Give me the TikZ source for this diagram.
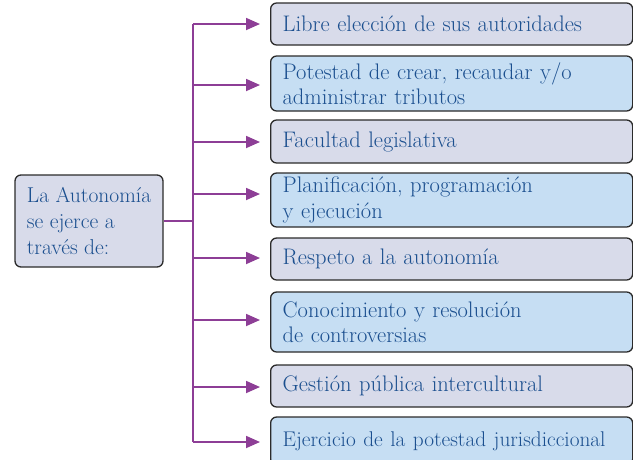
\documentclass[tikz,border=0pt]{standalone}
\usepackage{fontspec}
\usetikzlibrary{arrows.meta}
\definecolor{boxgray}{HTML}{D8DBEA}
\definecolor{boxblue}{HTML}{C6DEF3}
\definecolor{txtblue}{HTML}{1B4F8F}
\definecolor{arrpurple}{HTML}{8D3E96}
\definecolor{bord}{HTML}{2B2B2B}
\tikzset{
  x=1pt,y=-1pt,
  itembox/.style={draw=bord, line width=1.3pt, rounded corners=6pt, anchor=west,
    inner xsep=12pt, inner ysep=2pt, text width=338pt, align=left, text=txtblue,
    font=\fontsize{22.5}{25.5}\selectfont},
  gbox/.style={itembox, fill=boxgray},
  bbox/.style={itembox, fill=boxblue},
  arr/.style={draw=arrpurple, line width=1.8pt, -{Triangle[length=14pt,width=12pt]}},
  ln/.style={draw=arrpurple, line width=1.8pt},
}
\begin{document}
\begin{tikzpicture}
\useasboundingbox (0,0) rectangle (633,459);
\clip (0,0) rectangle (633,459);
\node[gbox, minimum height=42pt] (b1) at (270,24) {Libre elección de sus autoridades};
\node[bbox, minimum height=55pt] (b2) at (270,83.5) {\makebox[324pt][s]{Potestad de crear, recaudar y/o}\\administrar tributos};
\node[gbox, minimum height=43pt] (b3) at (270,141.5) {Facultad legislativa};
\node[bbox, minimum height=54pt] (b4) at (270,200) {Planificación, programación\\y ejecución};
\node[gbox, minimum height=42pt] (b5) at (270,259) {Respeto a la autonomía};
\node[bbox, minimum height=60pt] (b6) at (270,322) {Conocimiento y resolución\\de controversias};
\node[gbox, minimum height=42pt] (b7) at (270,386) {Gestión pública intercultural};
\node[bbox, minimum height=48pt] (b8) at (270,441) {\fontsize{21.3}{25}\selectfont\mbox{Ejercicio de la potestad jurisdiccional}};
\node[draw=bord, line width=1.3pt, rounded corners=6pt, fill=boxgray, text=txtblue,
  align=left, inner xsep=4pt, minimum width=148pt, minimum height=92pt,
  font=\fontsize{21.5}{26}\selectfont] (L) at (89,221) {La Autonomía\\se ejerce a\\través de:};
\coordinate (t1) at (193,24);
\coordinate (t2) at (193,85);
\coordinate (t3) at (193,142);
\coordinate (t4) at (193,194);
\coordinate (t5) at (193,258);
\coordinate (t6) at (193,320);
\coordinate (t7) at (193,387);
\coordinate (t8) at (193,442);
\coordinate (tm) at (193,221);
\draw[ln] (t1) -- (t8);
\draw[ln] (L.east |- tm) -- (tm);
\foreach \i in {1,...,8}{
  \draw[arr, shorten >=10pt] (t\i) -- (t\i -| b\i.west);
}
\end{tikzpicture}
\end{document}
